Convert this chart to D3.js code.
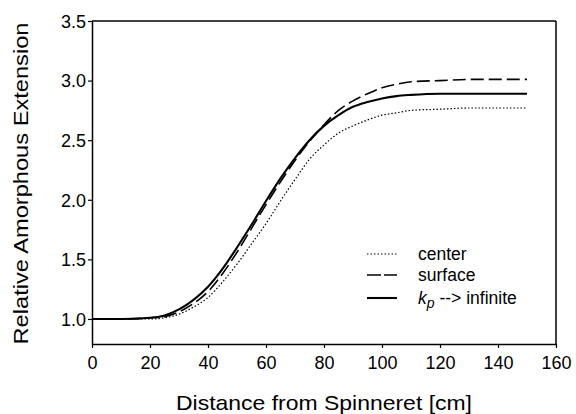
<!DOCTYPE html>
<html><head><meta charset="utf-8">
<script src="https://cdn.jsdelivr.net/npm/d3@7"></script>
<style>body{margin:0;background:#fff}</style>
</head><body>
<svg id="c" width="576" height="414"></svg>
<script>
const xs = [0,10,20,25,30,35,40,45,50,55,60,65,70,75,80,85,90,95,100,105,110,120,130,140,150];
const center  = [1.0,1.0,1.0,1.01,1.04,1.10,1.18,1.31,1.46,1.63,1.80,1.99,2.17,2.34,2.46,2.56,2.62,2.67,2.71,2.73,2.75,2.76,2.77,2.77,2.77];
const surface = [1.0,1.0,1.01,1.02,1.06,1.13,1.23,1.38,1.56,1.76,1.96,2.15,2.33,2.49,2.63,2.75,2.83,2.89,2.94,2.97,2.99,3.0,3.01,3.01,3.01];
const kpInf   = [1.0,1.0,1.01,1.03,1.08,1.16,1.27,1.42,1.60,1.79,1.99,2.18,2.35,2.50,2.62,2.71,2.78,2.82,2.85,2.87,2.88,2.89,2.89,2.89,2.89];
const xTicks = [0,20,40,60,80,100,120,140,160];
const yTicks = [1.0,1.5,2.0,2.5,3.0,3.5];

const svg = d3.select("#c");
const L=92,R=556,T=21,B=344;
const x = d3.scaleLinear().domain([0,160]).range([L,R]);
const y = d3.scaleLinear().domain([0.79,3.5]).range([B,T]);
const font = "'Liberation Sans', Arial, sans-serif";

const xa = svg.append("g").attr("transform",`translate(0,${B})`)
  .call(d3.axisBottom(x).tickValues(xTicks).tickFormat(d3.format("d")).tickSize(4).tickSizeOuter(0));
const ya = svg.append("g").attr("transform",`translate(${L},0)`)
  .call(d3.axisLeft(y).tickValues(yTicks).tickFormat(d3.format(".1f")).tickSize(4).tickSizeOuter(0));
[xa,ya].forEach(g=>{
  g.selectAll("path").attr("stroke","#000").attr("stroke-width",1.5);
  g.selectAll("line").attr("stroke","#000").attr("stroke-width",1.2);
  g.selectAll("text").attr("font-family",font).attr("font-size",18).attr("fill","#000");
});
xa.selectAll("text").attr("dy","1.0em");
ya.selectAll("text").attr("x",-6).attr("dy","0.35em");
// frame top & right
svg.append("line").attr("x1",L).attr("x2",R).attr("y1",T).attr("y2",T).attr("stroke","#000").attr("stroke-width",1.5);
svg.append("line").attr("x1",R).attr("x2",R).attr("y1",T).attr("y2",B).attr("stroke","#000").attr("stroke-width",1.5);

const series = [
  {name:"center", vals:center, dash:"1.5,2", w:1.2},
  {name:"surface", vals:surface, dash:"13,5", w:1.6},
  {name:"kp", vals:kpInf, dash:null, w:2.1}
];
const line = d3.line().x(d=>x(d[0])).y(d=>y(d[1])).curve(d3.curveMonotoneX);
series.forEach(s=>{
  svg.append("path").datum(xs.map((v,i)=>[v,s.vals[i]]))
    .attr("d",line).attr("fill","none").attr("stroke","#000")
    .attr("stroke-width",s.w).attr("stroke-dasharray",s.dash);
});

// legend
const ly=[254,275,298];
series.forEach((s,i)=>{
  svg.append("line").attr("x1",367).attr("x2",397).attr("y1",ly[i]).attr("y2",ly[i])
    .attr("stroke","#000").attr("stroke-width",s.w).attr("stroke-dasharray",s.name==="surface"?"14,3":s.dash);
  const t = svg.append("text").attr("x",418).attr("y",ly[i]).attr("dy","0.35em")
    .attr("font-family",font).attr("font-size",17.5).attr("fill","#000");
  if(s.name==="kp"){
    t.append("tspan").attr("font-style","italic").text("k");
    t.append("tspan").attr("font-style","italic").attr("font-size",14).attr("dy",4).text("p");
    t.append("tspan").attr("dy",-4).text(" --> infinite");
  } else t.text(s.name);
});

svg.append("text").attr("x",(L+R)/2).attr("y",410).attr("text-anchor","middle")
  .attr("font-family",font).attr("font-size",21).attr("textLength",296).attr("lengthAdjust","spacingAndGlyphs")
  .text("Distance from Spinneret [cm]");
svg.append("text").attr("transform",`translate(28,183.5) rotate(-90)`).attr("text-anchor","middle")
  .attr("font-family",font).attr("font-size",21).attr("textLength",322).attr("lengthAdjust","spacingAndGlyphs")
  .text("Relative Amorphous Extension");
</script>
</body></html>
